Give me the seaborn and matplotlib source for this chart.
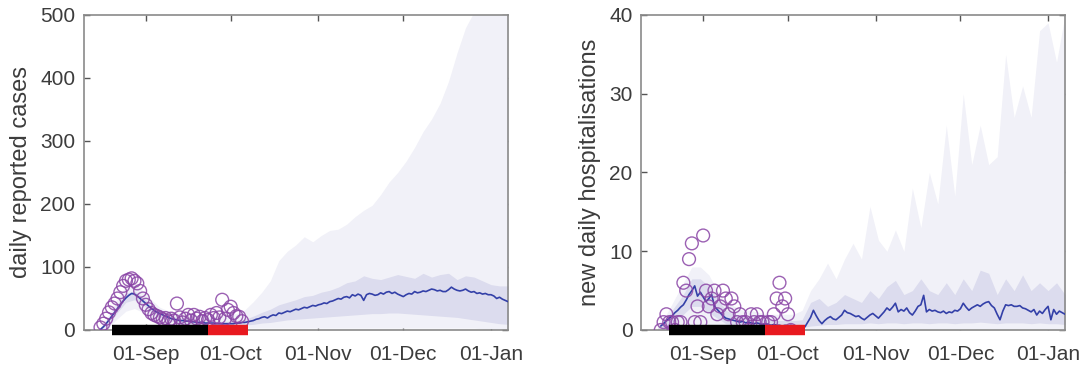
import numpy as np
import pandas as pd
import matplotlib
matplotlib.use("Agg")
import matplotlib.pyplot as plt
import matplotlib.dates as mdates
import seaborn as sns

# ---------------- data ----------------
# observed daily reported cases (Aug 16 .. Oct 5)
cases_obs_start = "2020-08-16"
cases_obs = [4, 10, 18, 28, 36, 42, 50, 60, 70, 78, 80, 82, 78, 74, 62, 50,
             40, 33, 27, 24, 22, 20, 17, 19, 14, 18, 15, 42, 20, 12, 18, 24,
             15, 24, 18, 21, 14, 19, 16, 24, 19, 27, 20, 48, 18, 32,
             37, 27, 22, 21, 14]

# model median daily cases (Aug 16 .. Jan 7)
cases_med_start = "2020-08-16"
cases_med = [
    1, 5, 10, 16, 22, 28, 34, 40, 46, 51, 55, 58, 57, 54, 50, 46,
    42, 38, 34, 31, 28, 26, 24, 22, 20, 18, 17, 16, 15, 15, 14, 14, 13, 13, 12, 12,
    12, 11, 11, 11, 11, 10, 10, 10, 10, 10,
    10, 10, 11, 11, 12, 12, 13, 14, 15, 17, 18, 20, 21, 19, 22, 24, 23, 27, 26, 28,
    30, 29, 31, 33, 32, 34, 36, 35, 37, 39, 38,
    40, 41, 43, 42, 45, 46, 48, 50, 49, 52, 53, 51, 56, 54, 57, 55, 47, 56, 58, 57,
    55, 56, 59, 57, 60, 61, 58, 60, 57, 55,
    53, 56, 58, 57, 61, 59, 60, 62, 61, 63, 65, 64, 62, 63, 61, 61, 64, 68, 65, 63,
    62, 63, 65, 62, 60, 61, 58, 59, 57, 58, 56,
    56, 54, 50, 52, 49, 47, 45]

# uncertainty bands, every 3 days from Aug 16 to Jan 7
band_start = "2020-08-16"
band_step_days = 3
cases_outer_hi = [5, 25, 50, 70, 75, 62, 48, 36, 30, 27, 25, 24, 23, 22, 22, 24,
                  26, 32, 45, 60, 78, 110, 125, 135, 148, 140, 150, 158, 160, 168,
                  180, 190, 198, 215, 235, 250, 268, 290, 315, 335, 360, 395, 440,
                  480, 505, 530, 550, 560, 570]
cases_outer_lo = [0, 5, 18, 30, 34, 28, 18, 12, 8, 6, 5, 4, 4, 3, 3, 3,
                  3, 3, 3, 3, 3, 3, 3, 3, 3, 3, 3, 3, 3, 3,
                  3, 3, 3, 3, 3, 3, 3, 3, 3, 3, 3, 3, 3,
                  3, 3, 2, 2, 2, 2]
cases_inner_hi = [3, 20, 42, 58, 62, 52, 38, 29, 23, 20, 18, 16, 15, 14, 14, 14,
                  15, 17, 22, 28, 33, 40, 44, 48, 53, 55, 60, 63, 68, 75,
                  78, 86, 82, 80, 84, 88, 85, 82, 90, 84, 88, 90, 80,
                  86, 84, 78, 72, 70, 70]
cases_inner_lo = [0, 10, 28, 44, 48, 40, 28, 20, 15, 12, 10, 9, 8, 8, 7, 7,
                  7, 8, 9, 11, 12, 14, 16, 17, 18, 19, 20, 21, 22, 23,
                  24, 25, 26, 26, 27, 27, 26, 25, 24, 23, 22, 21, 20,
                  18, 16, 14, 12, 10, 9]

# observed new daily hospitalisations (Aug 17 .. Oct 2)
hosp_obs_start = "2020-08-17"
hosp_obs = [0, 1, 2, 1, 1, 0, 1, 1, 6, 5, 9, 11, 1, 3, 1,
            12, 5, 3, 4, 5, 2, 3, 5, 4, 2, 4, 3, 1, 2, 1, 1, 0, 2, 1, 2,
            1, 1, 0, 1, 1, 2, 4, 6, 3, 4,
            2, 0]

# model median hospitalisations (Aug 17 .. Jan 7)
hosp_med_start = "2020-08-17"
hosp_med = [
    0.5, 0.8, 1.2, 1.5, 1.8, 2.2, 2.5, 2.9, 3.2, 3.8, 4.5, 5.0, 5.6, 4.3, 4.8,
    4.2, 3.6, 4.0, 4.5, 3.0, 2.6, 2.2, 1.8, 1.5, 1.4, 1.3, 1.2, 1.1, 1.0, 1.1,
    0.9, 1.0, 0.9, 0.8, 0.9, 0.8, 0.7, 0.8, 0.7, 0.6, 0.7, 0.6, 0.6, 0.5, 0.6,
    0.5, 0.6, 0.5, 0.5, 0.4, 0.5, 0.4, 1.0, 1.6, 2.5, 1.8, 1.2, 0.8, 1.2, 1.5,
    1.7, 1.4, 1.3, 1.6, 1.9, 2.5, 2.2, 2.1, 1.9, 1.7, 1.8, 1.5, 1.3, 1.6, 1.9, 2.1,
    1.8, 1.5, 1.9, 2.3, 2.8, 2.5, 2.9, 3.4, 2.3, 2.6, 2.4, 2.8, 2.2, 1.9, 2.4,
    3.0, 3.2, 4.4, 2.3, 2.6, 2.4, 2.5, 2.3, 2.2, 2.4, 2.1, 2.3, 2.2, 2.5, 2.4,
    2.7, 3.4, 2.9, 2.5, 2.8, 3.0, 3.2, 3.0, 3.3, 3.5, 3.6, 3.1, 2.8, 2.0, 1.3,
    2.4, 3.2, 3.1, 3.2, 3.0, 3.0, 3.1, 2.8, 2.7, 2.5, 2.3, 2.6, 1.9, 2.4, 2.1, 2.6,
    3.0, 1.3, 2.6, 2.0, 2.4, 2.2, 2.0]

hosp_outer_hi = [0.5, 2, 4, 6, 8, 8, 7, 5, 3.5, 3, 2.5, 2.5, 2.2, 2, 2, 2,
                 2, 2.5, 5, 6.5, 8.5, 6.5, 9, 11, 9, 15.7, 11.4, 10, 12.7, 10,
                 18, 13, 20, 16, 26, 17, 30, 21, 26, 21, 22, 35, 27,
                 31, 27, 38, 39, 34, 40]
hosp_outer_lo = [0] * 49
hosp_inner_hi = [0.5, 1.5, 3, 4.5, 6.5, 6.5, 5.5, 4, 2.5, 2, 1.8, 1.5, 1.5, 1.3, 1.2, 1.2,
                 1.2, 1.3, 3.5, 4, 3, 3.5, 4.5, 4, 3.5, 5, 4, 5.5, 6.3, 4.5,
                 5, 6.5, 5, 4.5, 6, 4.5, 6.5, 5, 7.6, 7.2, 4.5, 6.5, 5,
                 7, 5, 6, 5, 6, 4.5]
hosp_inner_lo = [0, 0.5, 1.2, 2, 3, 3, 2.2, 1.5, 0.8, 0.6, 0.5, 0.4, 0.4, 0.3, 0.3, 0.3,
                 0.3, 0.3, 0.5, 0.6, 0.7, 0.7, 0.8, 0.8, 0.8, 0.9, 0.8, 0.9, 0.9, 0.8,
                 0.9, 0.9, 0.8, 0.9, 0.9, 0.8, 0.9, 0.9, 1.0, 0.9, 0.8, 0.9, 0.9,
                 0.9, 0.8, 0.9, 0.8, 0.8, 0.7]

# intervention periods (bars on the x axis)
black_period = ("2020-08-20", "2020-09-23")
red_period = ("2020-09-23", "2020-10-07")

x_limits = ("2020-08-10", "2021-01-07")
month_ticks = ["2020-09-01", "2020-10-01", "2020-11-01", "2020-12-01", "2021-01-01"]
y_labels = ["daily reported cases", "new daily hospitalisations"]
y_limits = [(0, 500), (0, 40)]
y_ticks = [[0, 100, 200, 300, 400, 500], [0, 10, 20, 30, 40]]

# ---------------- style ----------------
sns.set_theme(style="white")
plt.rcParams["font.family"] = ["Liberation Sans", "DejaVu Sans"]

LINE = "#3340a8"
CIRC = "#8a45a6"
OUTER = "#f1f1f8"
INNER = "#dcdcee"
TXT = "#3c3c3c"
SPINE = "#8a8a8a"


def daily(start, vals):
    return pd.date_range(start, periods=len(vals), freq="D")


def banddates(n):
    return pd.date_range(band_start, periods=n, freq=f"{band_step_days}D")


fig = plt.figure(figsize=(10.82, 3.69), dpi=100)
ax1 = fig.add_axes([0.0772, 0.1057, 0.3923, 0.8537])
ax2 = fig.add_axes([0.5924, 0.1057, 0.3919, 0.8537])

panels = [
    (ax1, cases_obs_start, cases_obs, cases_med_start, cases_med,
     cases_outer_lo, cases_outer_hi, cases_inner_lo, cases_inner_hi),
    (ax2, hosp_obs_start, hosp_obs, hosp_med_start, hosp_med,
     hosp_outer_lo, hosp_outer_hi, hosp_inner_lo, hosp_inner_hi),
]

for i, (ax, os_, ov, ms, mv, olo, ohi, ilo, ihi) in enumerate(panels):
    bd = banddates(len(ohi))
    ax.fill_between(bd, olo, ohi, color=OUTER, lw=0, zorder=1)
    ax.fill_between(bd, ilo, ihi, color=INNER, lw=0, zorder=2)

    med_df = pd.DataFrame({"date": daily(ms, mv), "value": mv})
    sns.lineplot(data=med_df, x="date", y="value", ax=ax, color=LINE, lw=1.2,
                 zorder=3)

    obs_df = pd.DataFrame({"date": daily(os_, ov), "value": ov})
    sns.scatterplot(data=obs_df, x="date", y="value", ax=ax, marker="o", s=85,
                    facecolors="none", edgecolor=CIRC, linewidth=1.0,
                    alpha=0.85, zorder=4)

    # intervention bars
    ax.plot(pd.to_datetime(list(black_period)), [0, 0], color="black", lw=7.5,
            solid_capstyle="butt", clip_on=False, zorder=5)
    ax.plot(pd.to_datetime(list(red_period)), [0, 0], color="#e8191f", lw=7.5,
            solid_capstyle="butt", clip_on=False, zorder=6)

    ax.set_xlim(pd.to_datetime(x_limits[0]), pd.to_datetime(x_limits[1]))
    ax.set_ylim(*y_limits[i])
    ax.set_yticks(y_ticks[i])
    ax.set_xticks(pd.to_datetime(month_ticks))
    ax.xaxis.set_major_formatter(mdates.DateFormatter("%d-%b"))
    ax.set_xlabel("")
    ax.set_ylabel(y_labels[i], fontsize=17, color=TXT, labelpad=6)
    ax.tick_params(axis="both", which="major", direction="in", length=4,
                   width=1, color="#555555", labelsize=15, labelcolor=TXT,
                   top=True, right=True, bottom=True, left=True, pad=6)
    ax.tick_params(axis="x", pad=11)
    for sp in ax.spines.values():
        sp.set_visible(True)
        sp.set_color(SPINE)
        sp.set_linewidth(1.2)
    ax.set_facecolor("white")
    ax.grid(False)

fig.savefig("out.png", dpi=100, facecolor="white")
